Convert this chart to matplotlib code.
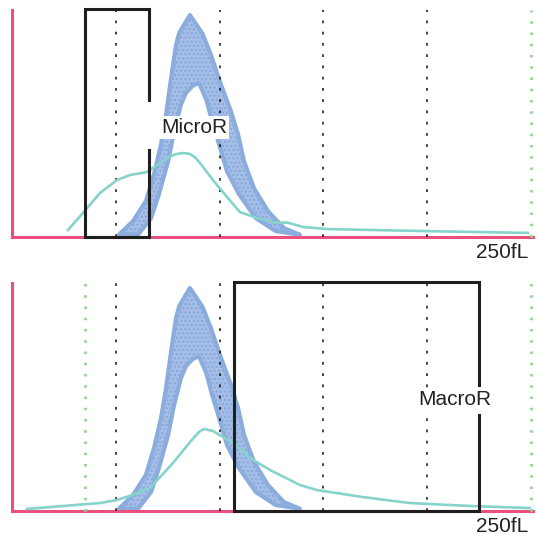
import matplotlib
matplotlib.use("Agg")
import matplotlib.pyplot as plt

plt.rcParams['font.family'] = ['Liberation Sans', 'DejaVu Sans']
plt.rcParams['lines.scale_dashes'] = False

# reference band (normal RBC distribution), x in fL, y in % of panel height
band_outer_x = [51.5, 58.3, 64.5, 68.4, 71.8, 74.2, 76.6, 79.0, 80.6, 85.7,
                91.8, 95.8, 100.7, 105.5, 108.9, 111.8, 116.6, 123.3, 131.0, 138.7]
band_outer_y = [1.0, 7.0, 15.8, 27.6, 40.8, 53.9, 69.7, 84.6, 90.0, 97.8,
                89.5, 80.3, 67.1, 55.3, 45.2, 33.3, 21.5, 11.4, 3.9, 1.0]
band_inner_x = [60.7, 67.0, 70.8, 75.2, 78.1, 81.4, 83.8, 86.9, 89.6,
                90.1, 93.6, 96.4, 99.8, 103.6, 109.3, 117.5, 127.1, 138.7]
band_inner_y = [1.0, 8.3, 18.9, 33.3, 46.5, 58.3, 63.5, 66.5, 67.8,
                67.8, 60.5, 50.9, 40.8, 28.9, 18.9, 8.3, 2.6, 1.0]

# measured sample curves
micro_x = [27.0, 34.2, 42.4, 50.6, 56.8, 65.0, 71.3, 76.0, 79.5, 82.6, 85.7, 88.3, 90.6,
           96.8, 103.6, 109.8, 118.0, 125.7, 129.0, 132.5, 140.2, 151.7, 172.4, 198.9, 248.6]
micro_y = [3.1, 10.6, 19.4, 25.1, 27.3, 28.6, 32.6, 35.5, 36.6, 37.0, 36.6, 35.0, 32.6,
           25.1, 17.6, 11.0, 8.4, 6.6, 6.2, 6.4, 4.4, 3.5, 3.1, 2.6, 1.8]
macro_x = [7.2, 42.4, 50.6, 58.0, 66.5, 77.6, 86.0, 90.0, 92.5, 96.8, 106.5, 116.1, 124.3,
           138.7, 146.9, 169.1, 191.7, 220.6, 249.5]
macro_y = [0.9, 3.5, 4.8, 7.0, 10.1, 21.1, 30.5, 34.6, 36.0, 35.1, 29.8, 22.4, 18.0,
           11.4, 9.2, 6.1, 3.5, 2.2, 1.3]

# gates and reference lines (fL)
dashed_lines = [50, 100, 150, 200]
micro_gate = (35, 66)
macro_gate = (107, 225)
micro_green = [250]
macro_green = [35, 250]
x_max = 251

RED = '#e9507d'
TEAL = '#86d3cb'
BAND_FILL = '#a5bee8'
BAND_EDGE = '#8badde'
BOX = '#1e1e1e'
GREEN = '#9fd59a'

fig = plt.figure(figsize=(5.37, 5.40), dpi=100)
ax_top = fig.add_axes([12 / 537, 303 / 540, 521 / 537, 227 / 540])
ax_bot = fig.add_axes([12 / 537, 29 / 540, 521 / 537, 228 / 540])


def draw_panel(ax, curve_x, curve_y, gate, gap, label, label_pos, greens):
    ax.set_xlim(0, x_max)
    ax.set_ylim(0, 100)
    for s in ['top', 'right']:
        ax.spines[s].set_visible(False)
    for s in ['left', 'bottom']:
        ax.spines[s].set_color(RED)
        ax.spines[s].set_linewidth(2.2)
    ax.set_xticks([])
    ax.set_yticks([])
    ax.patch.set_alpha(0)

    # band
    px = band_outer_x + band_inner_x[::-1]
    py = band_outer_y + band_inner_y[::-1]
    ax.fill(px, py, facecolor=BAND_FILL, edgecolor='#87a6da', hatch='....',
            linewidth=0, zorder=2)
    ax.fill(px, py, facecolor='none', edgecolor=BAND_EDGE, linewidth=3.0,
            joinstyle='round', zorder=2.1)

    for x in dashed_lines:
        ax.axvline(x, color='#111111', lw=1.1, linestyle=(0, (2.0, 6.1)), zorder=3)
    for x in greens:
        ax.axvline(x, color=GREEN, lw=2.2, linestyle=(0, (1.8, 6.3)), zorder=3,
                   clip_on=False)

    ax.plot(curve_x, curve_y, color=TEAL, lw=1.9, zorder=4, solid_joinstyle='round')

    # gate box, right edge broken around the label
    x0, x1 = gate
    top = 100.6
    ax.plot([x1, x1, x0, x0, x1, x1], [gap[0], top, top, 0, 0, gap[1]],
            color=BOX, lw=2.2, zorder=5, clip_on=False, solid_joinstyle='miter')

    ax.text(label_pos[0], label_pos[1], label, fontsize=15, ha='center', va='center',
            color='#222222', zorder=6,
            bbox=dict(boxstyle='square,pad=0.08', facecolor='white', edgecolor='none'))
    ax.text(248.5, -2.6, '250fL', fontsize=15, ha='right', va='top', color='#222222',
            clip_on=False)


draw_panel(ax_top, micro_x, micro_y, micro_gate, (60.4, 38.3), 'MicroR', (87.9, 48.2),
           micro_green)
draw_panel(ax_bot, macro_x, macro_y, macro_gate, (55.3, 42.1), 'MacroR', (213.2, 48.9),
           macro_green)

fig.savefig('out.png', dpi=100)
